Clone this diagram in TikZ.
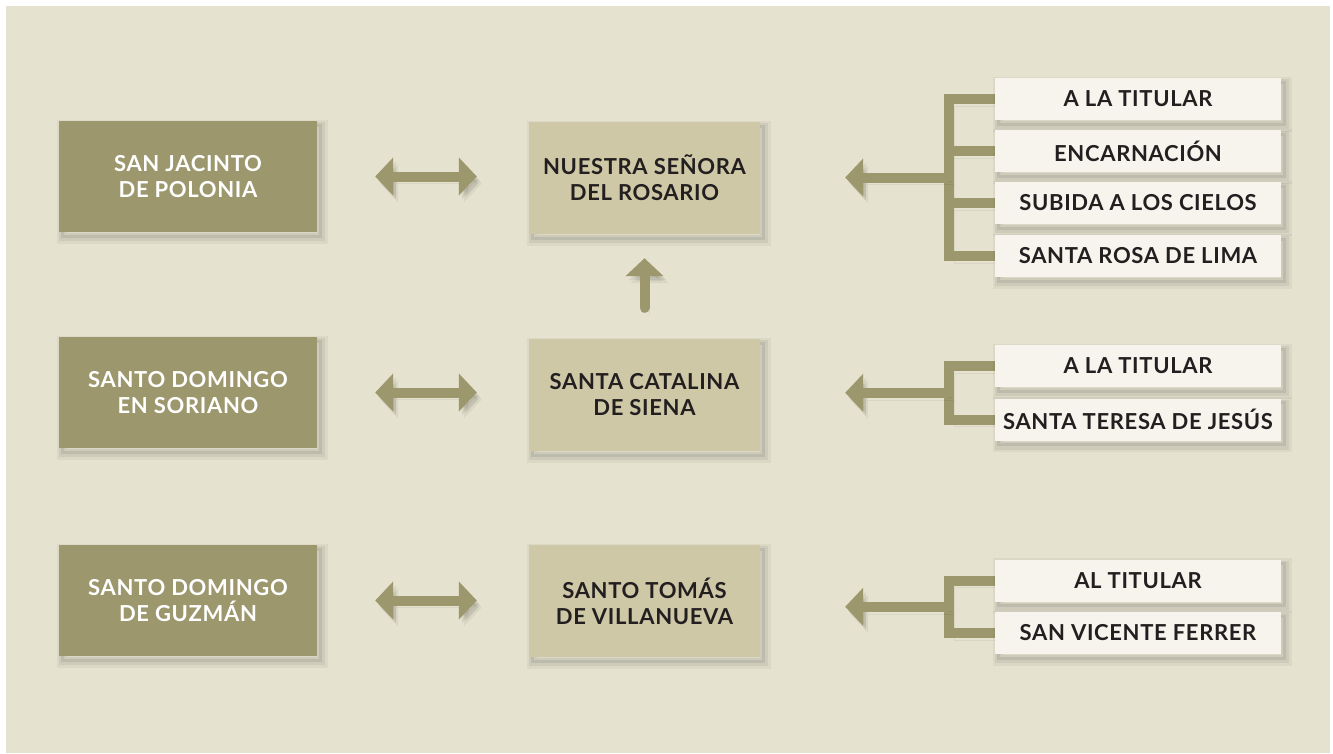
\documentclass[tikz,border=0pt]{standalone}
\usepackage{fontspec}
\setmainfont{Lato}[LetterSpace=3]
\usetikzlibrary{arrows.meta,calc}
\definecolor{bgc}{HTML}{E5E2CF}
\definecolor{olive}{HTML}{9C976D}
\definecolor{sand}{HTML}{CEC8A6}
\definecolor{cream}{HTML}{F7F4EE}
\definecolor{ink}{HTML}{231F20}
\pgfdeclarelayer{back}
\pgfsetlayers{back,main}
\begin{document}
\begin{tikzpicture}[x=1pt,y=-1pt,
  softshadow/.style={
    preaction={draw=black, draw opacity=0.045, line width=13pt, transform canvas={shift={(4pt,-5pt)}}},
    preaction={draw=black, draw opacity=0.06, line width=8pt, transform canvas={shift={(4pt,-5pt)}}},
    preaction={draw=black, draw opacity=0.08, line width=3pt, transform canvas={shift={(3pt,-4pt)}}}},
  base/.style={inner sep=0pt, align=center, font=\bfseries\fontsize{22}{26}\selectfont, softshadow},
  darkbox/.style={base, fill=olive, text=white, minimum width=258pt, minimum height=111pt},
  midbox/.style={base, fill=sand, text=ink, minimum width=231pt, minimum height=112pt},
  itembox/.style={base, fill=cream, text=ink, minimum width=286pt, minimum height=42pt},
  tipA/.tip={Triangle[width=37pt,length=18pt]},
  lineshadow/.style={
    preaction={draw=black, opacity=0.05, transform canvas={shift={(5pt,-7pt)}}},
    preaction={draw=black, opacity=0.07, transform canvas={shift={(3pt,-4pt)}}}},
  fat/.style={draw=olive, line width=10pt, lineshadow},
  bar/.style={draw=olive, line width=10pt, line join=miter, lineshadow}
]
\useasboundingbox (0,0) rectangle (1333,753);
\begin{pgfonlayer}{back}
\fill[white] (0,0) rectangle (1333,753);
\fill[bgc] (6,6) rectangle (1330,753);
\end{pgfonlayer}

% left boxes
\node[darkbox] (L1) at (188,176.5) {SAN JACINTO\\DE POLONIA};
\node[darkbox] (L2) at (188,392.5) {SANTO DOMINGO\\EN SORIANO};
\node[darkbox] (L3) at (188,600.5) {SANTO DOMINGO\\DE GUZMÁN};

% middle boxes
\node[midbox] (M1) at (644.5,178) {NUESTRA SEÑORA\\DEL ROSARIO};
\node[midbox] (M2) at (644.5,395) {SANTA CATALINA\\DE SIENA};
\node[midbox] (M3) at (644.5,601) {SANTO TOMÁS\\DE VILLANUEVA};

% right boxes
\node[itembox] (R1) at (1138,99) {A LA TITULAR};
\node[itembox] (R2) at (1138,151) {ENCARNACIÓN};
\node[itembox] (R3) at (1138,203) {SUBIDA A LOS CIELOS};
\node[itembox] (R4) at (1138,256) {SANTA ROSA DE LIMA};

\node[itembox] (R5) at (1138,366) {A LA TITULAR};
\node[itembox] (R6) at (1138,419.5) {SANTA TERESA DE JESÚS};

\node[itembox] (R7) at (1138,580.5) {AL TITULAR};
\node[itembox] (R8) at (1138,633) {SAN VICENTE FERRER};

\coordinate (S1) at ($(R1.west)!0.5!(R4.west)+(-46,0)$);
\coordinate (S2) at ($(R5.west)!0.5!(R6.west)+(-46,0)$);
\coordinate (S3) at ($(R7.west)!0.5!(R8.west)+(-46,0)$);

\begin{pgfonlayer}{back}
% brackets
\draw[bar] (R1.west) -- ++(-46,0) |- (R4.west);
\draw[bar] (R2.west) -- (R2.west -| S1);
\draw[bar] (R3.west) -- (R3.west -| S1);
\draw[bar] (R5.west) -- ++(-46,0) |- (R6.west);
\draw[bar] (R7.west) -- ++(-46,0) |- (R8.west);

% arrows from brackets
\draw[fat, -{tipA}, shorten >=85pt] (S1) -- (S1 -| M1.east);
\draw[fat, -{tipA}, shorten >=85pt] (S2) -- (S2 -| M2.east);
\draw[fat, -{tipA}, shorten >=85pt] (S3) -- (S3 -| M3.east);

% double arrows
\draw[fat, {tipA}-{tipA}, shorten <=58pt, shorten >=52pt] (L1.east) -- (L1.east -| M1.west);
\draw[fat, {tipA}-{tipA}, shorten <=58pt, shorten >=52pt] (L2.east) -- (L2.east -| M2.west);
\draw[fat, {tipA}-{tipA}, shorten <=58pt, shorten >=52pt] (L3.east) -- (L3.east -| M3.west);

% up arrow
\draw[fat, line cap=round, -{tipA}, shorten <=31pt, shorten >=24pt] (M2.north) -- (M1.south);
\end{pgfonlayer}
\end{tikzpicture}
\end{document}
